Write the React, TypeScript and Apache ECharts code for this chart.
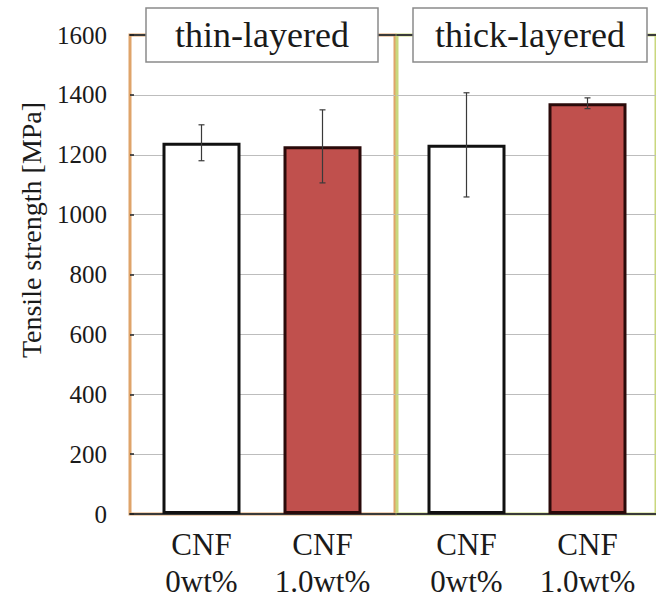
import React, { useEffect, useRef } from "react";
import * as echarts from "echarts";

const categories = ["CNF\n0wt%", "CNF\n1.0wt%"];
const panelLabels = ["thin-layered", "thick-layered"];
const thinValues = [1240, 1228];
const thinErrors = [60, 122];
const thickValues = [1233, 1372];
const thickErrors = [174, 18];
const yMin = 0;
const yMax = 1600;
const yInterval = 200;
const yName = "Tensile strength [MPa]";

const FONT = "Liberation Serif";
const RED = "#C0504D";
const WHITE = "#FFFFFF";
const TEXT = "#1a1a1a";
const GRID = "#BDBDBD";

export default function App() {
  const ref = useRef<HTMLDivElement>(null);

  useEffect(() => {
    if (!ref.current) return;
    const chart = echarts.init(ref.current, null, { renderer: "svg" });

    const top = 35;
    const height = 479;

    const frameY = (gridIndex: number, labels: boolean) => ({
      type: "value",
      gridIndex,
      min: yMin,
      max: yMax,
      interval: yInterval,
      axisLine: { show: false },
      axisTick: labels
        ? { show: true, inside: true, length: 4, lineStyle: { color: "#222", width: 1.5 } }
        : { show: false },
      axisLabel: labels
        ? {
            show: true,
            margin: 23,
            fontSize: 25,
            fontFamily: FONT,
            color: TEXT,
            formatter: (v: number) => String(v),
          }
        : { show: false },
      splitLine: { show: true, lineStyle: { color: GRID, width: 1 } },
    });
    const hiddenY = (gridIndex: number) => ({
      type: "value",
      gridIndex,
      min: yMin,
      max: yMax,
      interval: yInterval,
      show: false,
      splitLine: { show: false },
    });
    const frameX = (gridIndex: number, position: string) => ({
      type: "value",
      gridIndex,
      position,
      min: 0,
      max: 1,
      axisLine: { show: true, onZero: false, lineStyle: { color: "#3a3a3a", width: 2 } },
      axisTick: { show: false },
      axisLabel: { show: false },
      splitLine: { show: false },
    });
    const catX = (gridIndex: number) => ({
      type: "category",
      gridIndex,
      data: categories,
      axisLine: { show: false },
      axisTick: { show: false },
      axisLabel: {
        show: true,
        interval: 0,
        margin: 12,
        fontSize: 31,
        lineHeight: 37,
        fontFamily: FONT,
        color: TEXT,
        align: "center",
      },
      splitLine: { show: false },
    });

    const barSeries = (axisIndex: number, values: number[]) => ({
      type: "bar",
      xAxisIndex: axisIndex,
      yAxisIndex: axisIndex,
      barWidth: 78,
      z: 3,
      data: values.map((v, i) => ({
        value: v,
        itemStyle: {
          color: i === 0 ? WHITE : RED,
          borderColor: i === 0 ? "#111" : "#2a0a0a",
          borderWidth: 3,
        },
      })),
    });

    const errSeries = (axisIndex: number, values: number[], errors: number[]) => ({
      type: "custom",
      xAxisIndex: axisIndex,
      yAxisIndex: axisIndex,
      z: 5,
      data: values.map((v, i) => [i, v, errors[i]]),
      renderItem: (params: any, api: any) => {
        const idx = api.value(0);
        const v = api.value(1);
        const e = api.value(2);
        const hi = api.coord([idx, v + e]);
        const lo = api.coord([idx, v - e]);
        const cap = 3;
        const style = { stroke: "#3a3a3a", lineWidth: 1.2 };
        return {
          type: "group",
          children: [
            { type: "line", shape: { x1: hi[0], y1: hi[1], x2: lo[0], y2: lo[1] }, style },
            { type: "line", shape: { x1: hi[0] - cap, y1: hi[1], x2: hi[0] + cap, y2: hi[1] }, style },
            { type: "line", shape: { x1: lo[0] - cap, y1: lo[1], x2: lo[0] + cap, y2: lo[1] }, style },
          ],
        };
      },
    });

    const labelBox = (x: number, w: number, text: string) => [
      {
        type: "rect",
        z: 100,
        zlevel: 1,
        shape: { x, y: 8, width: w, height: 54 },
        style: { fill: "#fff", stroke: "#8a8a8a", lineWidth: 1.5 },
      },
      {
        type: "text",
        z: 101,
        zlevel: 1,
        x: x + w / 2,
        y: 35,
        style: {
          text,
          fontSize: 36,
          fontFamily: FONT,
          fill: TEXT,
          align: "center",
          verticalAlign: "middle",
        },
      },
    ];

    const option: any = {
      animation: false,
      backgroundColor: "#fff",
      grid: [
        { left: 130, top, width: 265, height, show: true, borderColor: "#DFA46A", borderWidth: 3, backgroundColor: "transparent" },
        { left: 397, top, width: 262, height, show: true, borderColor: "#C9D77E", borderWidth: 3, backgroundColor: "transparent" },
        { left: 141, top, width: 242, height },
        { left: 406, top, width: 242, height },
      ],
      xAxis: [
        frameX(0, "bottom"),
        frameX(1, "bottom"),
        catX(2),
        catX(3),
        frameX(0, "top"),
        frameX(1, "top"),
      ],
      yAxis: [frameY(0, true), frameY(1, false), hiddenY(2), hiddenY(3)],
      series: [
        barSeries(2, thinValues),
        errSeries(2, thinValues, thinErrors),
        barSeries(3, thickValues),
        errSeries(3, thickValues, thickErrors),
      ],
      graphic: [
        ...labelBox(146, 232, panelLabels[0]),
        ...labelBox(413, 234, panelLabels[1]),
        {
          type: "text",
          x: 31,
          y: 230,
          rotation: Math.PI / 2,
          style: {
            text: yName,
            fontSize: 28,
            fontFamily: FONT,
            fill: TEXT,
            align: "center",
            verticalAlign: "middle",
          },
        },
      ],
    };

    chart.setOption(option);
    return () => chart.dispose();
  }, []);

  return <div ref={ref} style={{ width: 656, height: 601, position: "absolute", left: 0, top: 0 }} />;
}
